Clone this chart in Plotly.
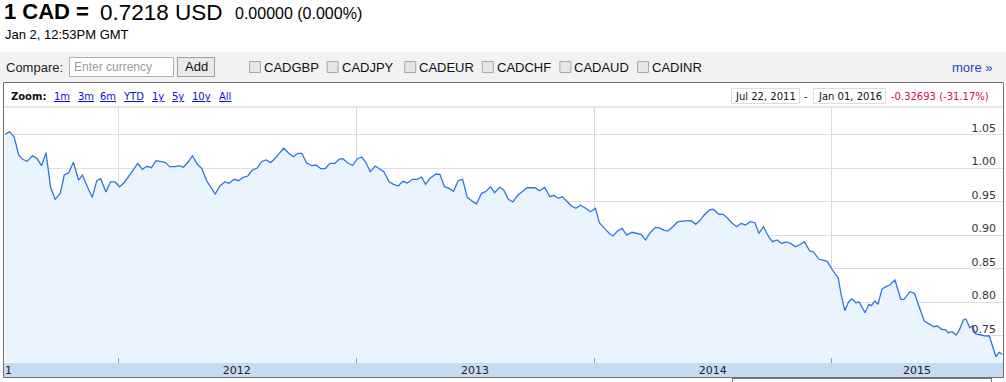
import pandas as pd
import plotly.graph_objects as go

W, H = 1006, 382

# ---------------- data ----------------
BASE_DATE = "2012-01-01"
day_offsets = [
    -174, -167, -160, -153, -147, -140, -132, -125, -118, -111, -104, -97, -89, -83, -76, -69,
    -61, -55, -48, -40, -33, -27, -19, -12, -5, 2, 9, 16, 23, 30, 37, 44, 51, 58, 65, 72, 79,
    87, 94, 100, 107, 114, 121, 128, 136, 142, 149, 156, 164, 170, 178, 185, 192, 199, 206,
    213, 220, 227, 234, 241, 248, 254, 262, 269, 276, 282, 289, 297, 304, 311, 318, 325, 333,
    339, 345, 353, 360, 367, 374, 380, 387, 395, 402, 408, 416, 423, 430, 437, 444, 452, 459,
    466, 472, 479, 488, 494, 501, 508, 515, 522, 529, 536, 543, 550, 558, 564, 572, 578, 586,
    592, 599, 606, 614, 622, 628, 634, 640, 647, 655, 663, 669, 676, 682, 689, 696, 703, 710,
    718, 725, 733, 739, 747, 754, 760, 767, 774, 781, 789, 796, 803, 810, 817, 825, 831, 838,
    844, 852, 859, 866, 873, 880, 887, 894, 900, 908, 914, 922, 929, 936, 943, 950, 957, 963,
    971, 978, 984, 991, 999, 1005, 1012, 1019, 1026, 1033, 1040, 1046, 1054, 1062, 1068, 1076,
    1082, 1089, 1097, 1106, 1110, 1116, 1122, 1127, 1133, 1138, 1147, 1153, 1157, 1162, 1167,
    1173, 1179, 1185, 1193, 1199, 1202, 1207, 1216, 1223, 1228, 1231, 1238, 1246, 1253, 1258,
    1265, 1271, 1275, 1281, 1287, 1292, 1298, 1302, 1308, 1312, 1317, 1325, 1330, 1338, 1343,
    1348, 1353, 1358,
]
cad_usd = [
    1.0507, 1.0546, 1.0470, 1.0199, 1.0134, 1.0104, 1.0188, 1.0149, 1.0039, 1.0233, 0.9716,
    0.9537, 0.9627, 0.9900, 0.9934, 1.0090, 0.9825, 0.9900, 0.9736, 0.9567, 0.9815, 0.9845,
    0.9646, 0.9796, 0.9796, 0.9725, 0.9785, 0.9875, 0.9975, 1.0075, 0.9985, 1.0030, 1.0010,
    1.0113, 1.0099, 1.0090, 1.0024, 1.0024, 1.0039, 1.0015, 1.0090, 1.0188, 1.0064, 1.0000,
    0.9810, 0.9716, 0.9616, 0.9736, 0.9800, 0.9776, 0.9836, 0.9815, 0.9866, 0.9885, 0.9975,
    1.0000, 1.0099, 1.0124, 1.0084, 1.0149, 1.0225, 1.0299, 1.0224, 1.0173, 1.0224, 1.0224,
    1.0084, 1.0039, 1.0049, 0.9994, 0.9994, 1.0075, 1.0075, 1.0134, 1.0143, 1.0075, 1.0045,
    1.0139, 1.0169, 1.0094, 0.9949, 1.0034, 0.9985, 0.9949, 0.9800, 0.9761, 0.9736, 0.9806,
    0.9781, 0.9836, 0.9836, 0.9870, 0.9761, 0.9851, 0.9915, 0.9910, 0.9725, 0.9701, 0.9657,
    0.9815, 0.9836, 0.9567, 0.9516, 0.9467, 0.9627, 0.9651, 0.9725, 0.9636, 0.9716, 0.9676,
    0.9540, 0.9497, 0.9601, 0.9666, 0.9710, 0.9710, 0.9710, 0.9666, 0.9716, 0.9576, 0.9597,
    0.9552, 0.9576, 0.9507, 0.9437, 0.9403, 0.9448, 0.9403, 0.9352, 0.9403, 0.9188, 0.9104,
    0.9030, 0.8990, 0.9064, 0.9104, 0.9004, 0.9045, 0.9030, 0.9015, 0.8930, 0.9039, 0.9119,
    0.9110, 0.9079, 0.9064, 0.9128, 0.9199, 0.9213, 0.9218, 0.9218, 0.9164, 0.9228, 0.9303,
    0.9378, 0.9388, 0.9318, 0.9313, 0.9254, 0.9179, 0.9128, 0.9179, 0.9154, 0.9203, 0.9188,
    0.9030, 0.9128, 0.8979, 0.8904, 0.8930, 0.8879, 0.8900, 0.8879, 0.8830, 0.8855, 0.8904,
    0.8766, 0.8751, 0.8646, 0.8631, 0.8612, 0.8482, 0.8358, 0.8134, 0.7875, 0.8009, 0.8050,
    0.7994, 0.8004, 0.7845, 0.7970, 0.7950, 0.8020, 0.7970, 0.8194, 0.8233, 0.8258, 0.8333,
    0.8134, 0.8045, 0.8045, 0.8159, 0.8134, 0.7970, 0.7910, 0.7721, 0.7676, 0.7636, 0.7646,
    0.7597, 0.7587, 0.7546, 0.7561, 0.7512, 0.7587, 0.7736, 0.7751, 0.7621, 0.7651, 0.7527,
    0.7512, 0.7501, 0.7497, 0.7337, 0.7188, 0.7254, 0.7224,
]
x_start_day, x_end_day = -174, 1359
y_tick_values = [0.75, 0.80, 0.85, 0.90, 0.95, 1.00, 1.05]
year_label_dates = ["2012-07-01", "2013-07-02", "2014-07-02", "2015-05-12"]
year_labels = ["2012", "2013", "2014", "2015"]
compare_codes = ["CADGBP", "CADJPY", "CADEUR", "CADCHF", "CADAUD", "CADINR"]
zoom_links = ["1m", "3m", "6m", "YTD", "1y", "5y", "10y", "All"]

base = pd.Timestamp(BASE_DATE)
dates = base + pd.to_timedelta(day_offsets, unit="D")
x_range = [base + pd.Timedelta(days=x_start_day), base + pd.Timedelta(days=x_end_day)]

# ---------------- helpers (layout in pixels) ----------------
ARIAL = "Arial, Liberation Sans, sans-serif"
VERD = "Verdana, DejaVu Sans, sans-serif"


def px(x):
    return x / W


def py(y):
    return 1 - y / H


shapes = []
annotations = []


def rect(x0, y0, x1, y1, fill="rgba(0,0,0,0)", line="rgba(0,0,0,0)", lw=1, layer="above"):
    shapes.append(dict(type="rect", xref="paper", yref="paper", x0=px(x0), x1=px(x1),
                       y0=py(y1), y1=py(y0), fillcolor=fill,
                       line=dict(color=line, width=lw), layer=layer))


def hline(x0, x1, y, color, lw=1):
    shapes.append(dict(type="line", xref="paper", yref="paper", x0=px(x0), x1=px(x1),
                       y0=py(y), y1=py(y), line=dict(color=color, width=lw)))


def vline(x, y0, y1, color, lw=1):
    shapes.append(dict(type="line", xref="paper", yref="paper", x0=px(x), x1=px(x),
                       y0=py(y0), y1=py(y1), line=dict(color=color, width=lw)))


def text(x, y, s, size, color="#000", family=ARIAL, xanchor="left"):
    annotations.append(dict(xref="paper", yref="paper", x=px(x), y=py(y), text=s,
                            showarrow=False, xanchor=xanchor, yanchor="middle",
                            font=dict(size=size, color=color, family=family), borderpad=0))


# ---------------- header ----------------
text(3, 11.8, "<b>1 CAD =</b>", 22)
text(99, 12.2, "0.7218 USD", 22.5)
text(234, 13.5, "0.00000 (0.000%)", 16)
text(4, 34, "Jan 2, 12:53PM GMT", 13)

# compare bar
rect(0, 52, W, 82, fill="#F2F2F2", layer="below")
text(5, 67, "Compare:", 13, "#222")
rect(69.5, 57.5, 173.5, 76.5, fill="#FFFFFF", line="#B0B0B0")
text(73, 67, "Enter currency", 12, "#9A9A9A")
rect(177.5, 57.5, 214.5, 76.5, fill="#EAEAEA", line="#A0A0A0")
text(196, 66.5, "Add", 13, "#111", xanchor="center")
for i, code in enumerate(compare_codes):
    cx = 249 + i * 77.6
    rect(cx + 0.5, 61.5, cx + 11.5, 72.5, fill="#E6E6E6", line="#A8A8A8")
    text(cx + 14, 67, code, 13, "#111")
text(993, 68, "more »", 13, "#2244BB", xanchor="right")

# chart box
rect(3.5, 82.5, 1003.5, 377.5, line="#6E6E6E")
text(10, 96, "<b>Zoom:</b>", 10, "#111", VERD)
for lx, lab in zip([53, 77, 99, 122, 151, 171, 191, 218], zoom_links):
    text(lx, 96, "<u>" + lab + "</u>", 10, "#1010CC", VERD)
rect(731.5, 88.5, 799.5, 103.5, fill="#FFFFFF", line="#DDDDDD")
rect(813.5, 88.5, 885.5, 103.5, fill="#FFFFFF", line="#DDDDDD")
text(765.5, 96, "Jul 22, 2011", 10, "#111", VERD, "center")
text(849.5, 96, "Jan 01, 2016", 10, "#111", VERD, "center")
text(806, 96, "-", 10, "#111", VERD, "center")
text(890, 96, "-0.32693 (-31.17%)", 10, "#CC1144", VERD)
hline(4, 1003, 107, "#CCCCCC")

# x-axis band
rect(4, 363, 1003, 377, fill="#C6DBF2", layer="below")
text(4, 370, "1", 11, "#222", VERD)
# navigator box top edge (partly visible)
hline(732, 992, 378.5, "#777777")
vline(732.5, 378, 382, "#777777")
vline(991.5, 378, 382, "#777777")

# ---------------- figure ----------------
fig = go.Figure()
fig.add_trace(go.Scatter(
    x=dates, y=cad_usd, mode="lines",
    line=dict(color="#2F76DB", width=1.3),
    fill="tozeroy", fillcolor="#EAF4FE",
    hoverinfo="x+y", showlegend=False,
))

fig.update_layout(
    width=W, height=H,
    margin=dict(l=0, r=0, t=0, b=0),
    paper_bgcolor="#FFFFFF", plot_bgcolor="#FFFFFF",
    shapes=shapes, annotations=annotations,
    xaxis=dict(
        domain=[px(5), px(1003)], type="date", range=x_range,
        tickmode="array", tickvals=year_label_dates, ticktext=year_labels,
        ticks="", showgrid=False, zeroline=False, showline=False,
        tickfont=dict(family=VERD, size=11, color="#222"),
        ticklabelstandoff=-1,
        minor=dict(tickmode="linear", tick0="2012-01-01", dtick="M12",
                   ticks="inside", ticklen=5, tickcolor="#999999",
                   showgrid=True, gridcolor="#D9D9D9", gridwidth=1),
    ),
    yaxis=dict(
        domain=[py(363), py(107)], range=[0.7094, 1.0915],
        side="right", ticklabelposition="inside",
        tickmode="array", tickvals=y_tick_values,
        ticktext=[f"{v:.2f}" for v in y_tick_values],
        tickfont=dict(family=VERD, size=11, color="#333"),
        ticklabelshift=-7, ticklabelstandoff=4,
        showgrid=True, gridcolor="#DCDCEE", gridwidth=1,
        zeroline=False, showline=False, ticks="",
    ),
)

fig.write_html("out.html")
